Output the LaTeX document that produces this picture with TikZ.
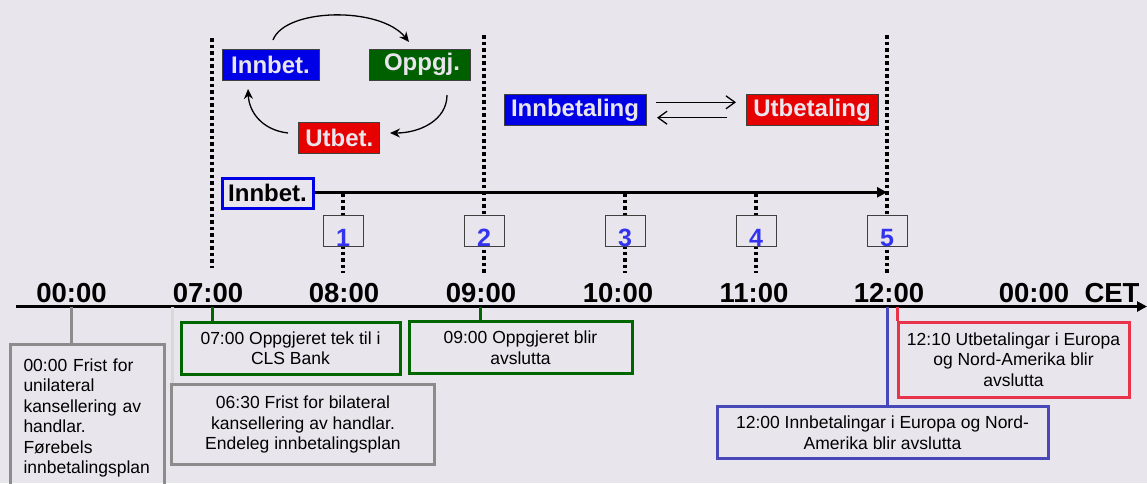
\documentclass[tikz,border=0pt]{standalone}
\usepackage{fontspec}
\setmainfont{Liberation Sans}
\usetikzlibrary{arrows.meta}

\definecolor{bgcol}{RGB}{233,229,237}
\definecolor{ibblue}{RGB}{0,0,230}
\definecolor{ubred}{RGB}{230,0,0}
\definecolor{opgreen}{RGB}{0,96,0}
\definecolor{numblue}{RGB}{51,51,238}
\definecolor{edgegray}{RGB}{64,64,64}
\definecolor{notegray}{RGB}{140,140,140}
\definecolor{notelight}{RGB}{216,216,216}
\definecolor{notegreen}{RGB}{0,102,0}
\definecolor{noteblue}{RGB}{72,72,184}
\definecolor{notered}{RGB}{232,51,74}

\tikzset{
  timelbl/.style={font=\bfseries\fontsize{27.5}{27.5}\selectfont, anchor=base, inner sep=0pt},
  cycbox/.style={draw=edgegray, line width=1pt, text=bgcol, font=\bfseries\fontsize{24}{24}\selectfont,
    minimum height=31pt, inner sep=0pt},
  numbox/.style={draw=edgegray, line width=1pt, fill=bgcol, minimum width=40pt, minimum height=31pt, inner sep=0pt},
  numlbl/.style={text=numblue, font=\bfseries\fontsize{25}{25}\selectfont, anchor=base, inner sep=0pt},
  notebox/.style={draw, line width=3pt, align=center, font=\fontsize{17.5}{20.5}\selectfont, inner sep=0pt},
  dotline/.style={line width=3.5pt, dash pattern=on 3.5pt off 3pt},
  conn/.style={line width=3pt},
  cyc/.style={line width=1.3pt, -{Stealth[length=10pt,width=9pt]}},
  swap/.style={line width=1.3pt, -{Straight Barb[length=9pt,width=13pt]}},
}

\begin{document}
\begin{tikzpicture}[x=1pt, y=-1pt]
\useasboundingbox (0,0) rectangle (1147,483);
\fill[bgcol] (0,0) rectangle (1147,483);
\clip (0,0) rectangle (1147,483);

% dotted guide lines
\draw[dotline] (212,38) -- (212,268);
\draw[dotline] (484,35) -- (484,273);
\draw[dotline] (887,35) -- (887,273);
\draw[dotline] (343,193) -- (343,273);
\draw[dotline] (625,193) -- (625,273);
\draw[dotline] (756,193) -- (756,273);

% cycle
\node[cycbox, fill=ibblue, minimum width=97pt] (ib) at (270.5,64.5) {Innbet.};
\node[cycbox, fill=opgreen, minimum width=101pt] (op) at (420,64.5) {\hspace{4pt}Oppgj.};
\node[cycbox, fill=ubred, minimum width=81pt] (ub) at (339.3,138.3) {Utbet.};
\coordinate (a1s) at (273,40);
\coordinate (a1e) at (409,42);
\coordinate (a2s) at (447,95);
\coordinate (a2e) at (390,133);
\coordinate (a3s) at (288,133);
\coordinate (a3e) at (248,89);
\draw[cyc] (a1s) .. controls (285,8) and (380,6) .. (a1e);
\draw[cyc] (a2s) .. controls (447,120) and (420,133) .. (a2e);
\draw[cyc] (a3s) .. controls (262,130) and (249,112) .. (a3e);

% innbetaling / utbetaling
\node[cycbox, fill=ibblue, minimum width=142pt] (inn) at (575,110) {Innbetaling};
\node[cycbox, fill=ubred, minimum width=132pt] (utb) at (812,110) {Utbetaling};
\coordinate (s1s) at (656,102.3);
\coordinate (s1e) at (736,102.3);
\coordinate (s2s) at (727,117.7);
\coordinate (s2e) at (657,117.7);
\draw[swap] (s1s) -- (s1e);
\draw[swap] (s2s) -- (s2e);

% innbetalingsrunde
\node[draw=ibblue, line width=3pt, font=\bfseries\fontsize{24}{24}\selectfont,
  minimum width=91pt, minimum height=30pt, inner sep=0pt] (ibo) at (267.5,193) {Innbet.};
\coordinate (ibend) at (887,192.3);
\draw[line width=2.5pt, -{Triangle[length=10pt,width=10pt]}] (ibo.east |- ibend) -- (ibend);

\foreach \x/\n in {343/1, 484/2, 625/3, 756/4, 887/5} {
  \node[numbox] (b\n) at (\x,230.8) {};
  \node[numlbl] (n\n) at (b\n.south) {\n};
}

% time axis
\coordinate (ax0) at (16,306.5);
\coordinate (ax1) at (1147,306.5);
\draw[line width=3pt, -{Triangle[length=10pt,width=10pt]}] (ax0) -- (ax1);
\node[timelbl] (t0000) at (71.5,302) {00:00};
\node[timelbl] (t0700) at (208,302) {07:00};
\node[timelbl] (t0800) at (344,302) {08:00};
\node[timelbl] (t0900) at (481,302) {09:00};
\node[timelbl] (t1000) at (618,302) {10:00};
\node[timelbl] (t1100) at (754,302) {11:00};
\node[timelbl] (t1200) at (889,302) {12:00};
\node[timelbl] (t2400) at (1034,302) {00:00};
\node[timelbl] (tcet) at (1112,302) {CET};

% notes
\node[notebox, draw=notegray, anchor=north west, align=left, text width=128pt,
  inner xsep=13pt, inner ysep=14pt] (m0000) at (9,343)
  {00:00 Frist for\\unilateral\\kansellering av\\handlar.\\Førebels\\innbetalingsplan\\[10pt]};
\node[notebox, draw=notegray, minimum width=263pt, minimum height=80pt] (m0630) at (303,424.5)
  {06:30 Frist for bilateral\\kansellering av handlar.\\Endeleg innbetalingsplan};
\node[notebox, draw=notegreen, minimum width=219pt, minimum height=52pt] (m0700) at (290.5,348)
  {07:00 Oppgjeret tek til i\\CLS Bank};
\node[notebox, draw=notegreen, minimum width=223pt, minimum height=52pt] (m0900) at (520.5,347.5)
  {09:00 Oppgjeret blir\\avslutta};
\node[notebox, draw=notered, minimum width=231pt, minimum height=75pt] (m1210) at (1013.5,359.5)
  {12:10 Utbetalingar i Europa\\og Nord-Amerika blir\\avslutta};
\node[notebox, draw=noteblue, minimum width=331pt, minimum height=52pt] (m1200) at (882.5,432.5)
  {12:00 Innbetalingar i Europa og Nord-\\Amerika blir avslutta};

\coordinate (c0000) at (71,306.5);
\coordinate (c0630) at (172,306.5);
\coordinate (c0700) at (212,306.5);
\coordinate (c0900) at (480,306.5);
\coordinate (c1200) at (887,306.5);
\coordinate (c1210) at (897,306.5);
\draw[conn, notegray] (c0000) -- (c0000 |- m0000.north);
\draw[conn, notelight] (c0630) -- (c0630 |- m0630.north);
\draw[conn, notegreen] (c0700) -- (c0700 |- m0700.north);
\draw[conn, notegreen] (c0900) -- (c0900 |- m0900.north);
\draw[conn, noteblue] (c1200) -- (c1200 |- m1200.north);
\draw[conn, notered] (c1210) -- (c1210 |- m1210.north);
\end{tikzpicture}
\end{document}
